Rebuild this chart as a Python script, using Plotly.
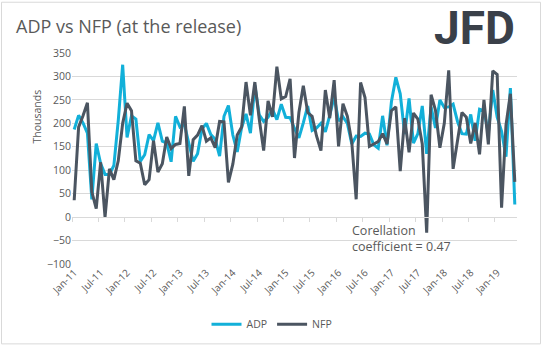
import plotly.graph_objects as go

months = ["Jan","Feb","Mar","Apr","May","Jun","Jul","Aug","Sep","Oct","Nov","Dec"]
categories = [f"{m}-{y:02d}" for y in range(11, 20) for m in months][:101]

adp = [187, 217, 201, 179, 38, 157, 114, 91, 91, 110, 206, 325,
       170, 216, 209, 119, 133, 176, 163, 201, 162, 158, 118, 215,
       192, 198, 158, 119, 135, 188, 200, 176, 166, 130, 215, 238,
       175, 139, 191, 220, 179, 281, 218, 204, 213, 230, 208, 241,
       213, 212, 189, 169, 201, 237, 185, 190, 200, 182, 217, 257,
       205, 214, 200, 156, 173, 172, 179, 177, 154, 147, 216, 153,
       246, 298, 263, 177, 253, 158, 178, 237, 135, 235, 190, 250,
       234, 235, 241, 204, 178, 177, 219, 163, 230, 227, 179, 271,
       213, 183, 129, 275, 27]

nfp = [36, 192, 216, 244, 54, 18, 117, 0, 103, 80, 120, 200,
       243, 227, 120, 115, 69, 80, 163, 96, 114, 171, 146, 155,
       157, 236, 88, 165, 175, 195, 162, 169, 148, 204, 203, 74,
       113, 175, 192, 288, 217, 288, 209, 142, 248, 214, 321, 252,
       257, 295, 126, 223, 280, 223, 215, 173, 142, 271, 211, 292,
       151, 242, 215, 160, 38, 287, 255, 151, 156, 161, 178, 156,
       227, 235, 98, 211, 138, 222, 209, 156, -33, 261, 228, 148,
       200, 313, 103, 164, 223, 213, 157, 201, 134, 250, 155, 312,
       304, 20, 196, 263, 75]

tick_idx = list(range(0, 101, 6))[:17]
tick_text = [categories[i] for i in tick_idx]
boundary_ticks = [i - 0.5 for i in tick_idx]

W, H = 543, 351
L, R, T, B = 72, 26, 53, 84
PW, PH = W - L - R, H - T - B

def px(xp):
    return (xp - L) / PW

def py(yp):
    return (H - B - yp) / PH

GRAY = "#595959"
FONT = "Open Sans"
x = list(range(len(categories)))

fig = go.Figure()
fig.add_trace(go.Scatter(x=x, y=adp, mode="lines", name="ADP",
                         line=dict(color="#12B0D9", width=3)))
fig.add_trace(go.Scatter(x=x, y=nfp, mode="lines", name="NFP",
                         line=dict(color="#4B5561", width=3)))
# helper trace for the zero-crossing category axis
fig.add_trace(go.Scatter(x=[0], y=[None], xaxis="x2", showlegend=False,
                         hoverinfo="skip", mode="lines"))

fig.update_layout(
    width=W, height=H,
    margin=dict(l=L, r=R, t=T, b=B),
    paper_bgcolor="white", plot_bgcolor="white",
    font=dict(family=FONT, color=GRAY, size=10.5),
    showlegend=True,
    legend=dict(orientation="h", x=px(272), y=py(328), xanchor="center",
                yanchor="middle", font=dict(size=10.5, color=GRAY),
                bgcolor="rgba(0,0,0,0)"),
    xaxis=dict(range=[-0.5, 100.5], tickmode="array", tickvals=tick_idx,
               ticktext=tick_text, tickangle=-45, showgrid=False,
               zeroline=False, showline=False, ticks="",
               tickfont=dict(size=10, color=GRAY)),
    xaxis2=dict(range=[-0.5, 100.5], overlaying="x", anchor="free",
                position=100 / 450, tickmode="array", tickvals=boundary_ticks,
                showticklabels=False, ticks="outside", ticklen=4,
                tickcolor="#d9d9d9", showline=True, linecolor="#d9d9d9",
                linewidth=1, showgrid=False, zeroline=False),
    yaxis=dict(range=[-100, 350], tickmode="linear", tick0=-100, dtick=50,
               showgrid=True, gridcolor="#d9d9d9", gridwidth=1,
               zeroline=False, showline=False, ticks="",
               tickfont=dict(size=10.5, color=GRAY)),
    title=dict(text="ADP vs NFP (at the release)", x=16 / W, xanchor="left",
               y=1 - 27 / H, yanchor="middle", xref="container", yref="container",
               font=dict(family=FONT, size=18, color=GRAY)),
)

fig.add_annotation(text="Thousands", xref="paper", yref="paper",
                   x=px(28), y=py(88), textangle=-90, showarrow=False,
                   font=dict(size=10.5, color=GRAY))
fig.add_annotation(text="Corellation<br>coefficient = 0.47", xref="paper",
                   yref="paper", x=px(350), y=py(241), xanchor="left",
                   yanchor="middle", align="left", showarrow=False,
                   font=dict(size=12.5, color=GRAY))
fig.add_annotation(text="<b>JFD</b>", xref="paper", yref="paper",
                   x=px(474), y=py(28), xanchor="center", yanchor="middle",
                   showarrow=False,
                   font=dict(family="Roboto", size=46, color="#3A4049"))
fig.add_shape(type="rect", xref="paper", yref="paper",
              x0=px(1.5), x1=px(540.5), y0=py(348), y1=py(1.5),
              line=dict(color="#d9d9d9", width=1), fillcolor="rgba(0,0,0,0)",
              layer="below")

fig.write_html("out.html")
